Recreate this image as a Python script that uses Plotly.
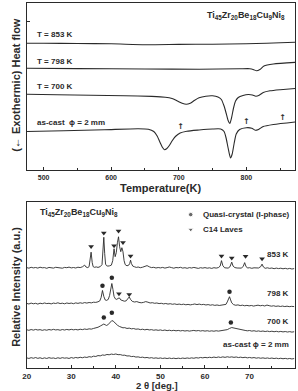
import plotly.graph_objects as go

W, H = 298, 391

# ---------------- DSC (top) ----------------
dsc_853 = [(475, 126.7), (500, 126.8), (550, 126.5), (600, 126.2), (650, 125.3), (700, 125.6),
           (750, 125.8), (800, 126.3), (830, 126.8), (850, 127.3), (872, 127.8)]
dsc_798 = [(475, 101.7), (550, 101.4), (650, 101.0), (730, 100.8), (790, 101.2), (805, 101.3),
           (811, 100.3), (815, 99.2), (820, 100.5), (826, 104.0), (840, 106.0), (872, 107.6)]
dsc_700 = [(475, 75.7), (520, 75.3), (570, 74.8), (620, 74.2), (660, 73.6), (680, 72.8), (690, 71.5),
           (698, 69.0), (705, 66.8), (711, 65.8), (717, 66.8), (723, 69.5), (730, 72.2), (740, 73.8),
           (750, 74.2), (758, 73.0), (763, 70.5), (767, 64.0), (770, 57.0), (773, 49.5), (775.5, 46.5),
           (778, 52.0), (781, 62.0), (784, 69.0), (788, 72.5), (795, 74.5), (803, 75.5), (809, 75.0),
           (814, 73.8), (819, 74.8), (825, 77.5), (835, 79.2), (850, 80.3), (872, 81.5)]
dsc_cast = [(475, 38.5), (530, 39.3), (590, 40.3), (640, 41.3), (655, 40.8), (663, 38.5), (668, 34.0),
            (672, 28.0), (676, 22.5), (679, 20.3), (682, 21.2), (686, 24.5), (690, 29.0), (695, 33.5),
            (702, 37.0), (712, 38.8), (730, 40.0), (750, 41.0), (762, 41.0), (767, 38.5), (770, 32.0),
            (773, 22.0), (776.5, 12.0), (779, 16.0), (782, 27.0), (785, 36.0), (790, 40.5), (800, 42.3),
            (808, 41.8), (813, 39.8), (818, 40.6), (825, 43.5), (840, 45.5), (872, 48.0)]
dsc_arrows = [(702.7, 43.3), (800, 47.7), (853.5, 51.7)]
dsc_labels = [("T = 853 K", 136), ("T = 798 K", 109), ("T = 700 K", 84), ("as-cast  \u03d5 = 2 mm", 48)]
dsc_xticks = [500, 600, 700, 800]

# ---------------- XRD (bottom) ----------------
xrd_853 = [(20.0, 101.0), (20.5, 100.4), (21.0, 101.3), (21.5, 100.7), (22.0, 101.1), (22.5, 100.5),
           (23.0, 101.4), (23.5, 100.8), (24.0, 101.0), (24.5, 100.3), (25.0, 101.2), (25.5, 100.9),
           (26.0, 100.5), (26.5, 101.3), (27.0, 100.8), (27.5, 101.0), (28.0, 100.4), (28.5, 101.2),
           (29.0, 100.9), (29.5, 101.5), (30.0, 100.7), (30.5, 101.1), (31.0, 100.6), (31.5, 101.4),
           (32.0, 101.0), (32.5, 101.8), (33.0, 103.5), (33.3, 101.6), (33.7, 101.0), (34.0, 102.0),
           (34.2, 107.0), (34.45, 116.5), (34.7, 106.0), (34.9, 102.0), (35.2, 101.3), (35.6, 101.7),
           (36.0, 101.2), (36.5, 102.0), (36.9, 104.0), (37.1, 114.0), (37.3, 131.5), (37.5, 115.0),
           (37.7, 104.5), (37.9, 103.0), (38.2, 102.5), (38.6, 102.8), (39.0, 103.5), (39.3, 108.0),
           (39.6, 120.0), (39.85, 112.0), (40.1, 116.0), (40.35, 126.0), (40.6, 132.0), (40.85, 122.0),
           (41.1, 117.0), (41.35, 121.0), (41.6, 117.0), (41.85, 108.0), (42.1, 104.0), (42.5, 102.8),
           (42.9, 103.5), (43.1, 105.0), (43.3, 108.5), (43.5, 105.0), (43.8, 102.5), (44.2, 101.8),
           (44.6, 101.2), (45.0, 101.6), (45.5, 100.9), (46.0, 101.4), (46.5, 102.0), (47.0, 103.0),
           (47.5, 101.8), (48.0, 101.0), (48.5, 101.3), (49.0, 100.6), (49.5, 101.1), (50.0, 100.7),
           (50.5, 101.2), (51.0, 100.5), (51.5, 101.0), (52.0, 101.6), (52.5, 101.0), (53.0, 100.4),
           (53.5, 101.1), (54.0, 100.8), (54.5, 101.3), (55.0, 100.5), (55.5, 100.9), (56.0, 100.3),
           (56.5, 101.0), (57.0, 100.6), (57.5, 101.2), (58.0, 100.7), (58.5, 100.2), (59.0, 100.9),
           (59.5, 100.5), (60.0, 101.0), (60.5, 100.4), (61.0, 100.8), (61.5, 100.2), (62.0, 100.9),
           (62.5, 100.5), (63.0, 101.0), (63.4, 102.5), (63.7, 108.0), (64.0, 103.0), (64.4, 100.8),
           (64.8, 101.0), (65.2, 100.5), (65.6, 101.8), (66.0, 106.5), (66.3, 102.5), (66.7, 101.0),
           (67.2, 100.6), (67.7, 100.9), (68.2, 100.5), (68.6, 102.5), (68.9, 106.0), (69.2, 102.0),
           (69.6, 100.6), (70.0, 100.9), (70.5, 100.3), (71.0, 100.8), (71.5, 100.4), (72.0, 100.6),
           (72.5, 102.0), (72.8, 104.5), (73.1, 101.6), (73.5, 100.3), (74.0, 100.8), (74.5, 100.2),
           (75.0, 100.6), (75.5, 99.9), (76.0, 100.5), (76.5, 100.0), (77.0, 100.4), (77.5, 99.8),
           (78.0, 100.3), (78.5, 99.7), (79.0, 100.2), (79.5, 99.6), (80.0, 100.0)]
xrd_798 = [(20.0, 65.0), (20.5, 64.4), (21.0, 65.3), (21.5, 64.6), (22.0, 65.1), (22.5, 64.3),
           (23.0, 65.2), (23.5, 64.7), (24.0, 65.4), (24.5, 64.8), (25.0, 65.1), (25.5, 64.5),
           (26.0, 65.3), (26.5, 64.9), (27.0, 65.6), (27.5, 64.8), (28.0, 65.2), (28.5, 64.6),
           (29.0, 65.4), (29.5, 64.9), (30.0, 65.3), (30.5, 64.7), (31.0, 65.5), (31.5, 65.0),
           (32.0, 65.6), (32.5, 65.1), (33.0, 65.8), (33.5, 65.3), (34.0, 65.9), (34.5, 65.5),
           (35.0, 66.2), (35.5, 66.0), (36.0, 66.6), (36.4, 67.5), (36.7, 71.0), (37.0, 78.0),
           (37.3, 72.0), (37.6, 68.5), (37.9, 68.0), (38.3, 69.0), (38.6, 73.0), (38.85, 80.0),
           (39.1, 85.0), (39.35, 79.0), (39.6, 72.0), (39.9, 69.5), (40.2, 69.0), (40.5, 70.0),
           (40.8, 70.5), (41.1, 68.5), (41.5, 67.8), (41.9, 67.2), (42.3, 67.5), (42.7, 69.5),
           (43.0, 71.5), (43.3, 69.0), (43.7, 67.0), (44.2, 66.4), (44.7, 66.8), (45.2, 66.0),
           (45.7, 65.6), (46.2, 66.0), (46.7, 66.8), (47.2, 66.2), (47.7, 65.4), (48.2, 65.7),
           (48.7, 65.1), (49.2, 65.4), (49.7, 64.8), (50.2, 65.1), (50.7, 64.5), (51.2, 64.9),
           (51.7, 64.3), (52.2, 64.7), (52.7, 64.1), (53.2, 64.5), (53.7, 63.9), (54.2, 64.3),
           (54.7, 63.8), (55.2, 64.2), (55.7, 63.6), (56.2, 64.0), (56.7, 63.5), (57.2, 63.9),
           (57.7, 64.4), (58.2, 63.8), (58.7, 64.3), (59.2, 63.7), (59.7, 64.0), (60.2, 63.4),
           (60.7, 63.8), (61.2, 63.2), (61.7, 63.6), (62.2, 63.0), (62.7, 63.4), (63.2, 62.9),
           (63.7, 63.3), (64.2, 63.0), (64.7, 64.0), (65.0, 66.5), (65.3, 70.0), (65.5, 71.7),
           (65.75, 68.5), (66.0, 65.5), (66.4, 63.8), (66.9, 63.1), (67.4, 63.5), (67.9, 62.8),
           (68.4, 63.2), (68.9, 62.6), (69.4, 63.0), (69.9, 62.5), (70.4, 62.9), (70.9, 62.3),
           (71.4, 62.8), (71.9, 63.2), (72.4, 62.6), (72.9, 63.0), (73.4, 62.4), (73.9, 63.3),
           (74.4, 62.7), (74.9, 62.2), (75.4, 62.6), (75.9, 62.0), (76.4, 62.4), (76.9, 61.9),
           (77.4, 62.3), (77.9, 61.8), (78.4, 62.2), (78.9, 61.7), (79.4, 62.0), (80.0, 61.8)]
xrd_700 = [(20.0, 38.5), (20.5, 37.9), (21.0, 38.7), (21.5, 38.1), (22.0, 38.8), (22.5, 38.2),
           (23.0, 38.6), (23.5, 37.9), (24.0, 38.5), (24.5, 38.0), (25.0, 38.7), (25.5, 38.2),
           (26.0, 38.9), (26.5, 38.3), (27.0, 38.6), (27.5, 38.0), (28.0, 38.7), (28.5, 38.2),
           (29.0, 38.8), (29.5, 38.3), (30.0, 38.9), (30.5, 38.4), (31.0, 38.8), (31.5, 38.3),
           (32.0, 39.0), (32.5, 38.6), (33.0, 39.2), (33.5, 38.8), (34.0, 39.4), (34.5, 39.1),
           (35.0, 39.8), (35.5, 40.2), (36.0, 41.0), (36.5, 42.2), (37.0, 43.5), (37.3, 44.2),
           (37.6, 43.5), (37.9, 42.8), (38.2, 43.4), (38.5, 45.0), (38.8, 46.6), (39.1, 47.7),
           (39.4, 47.2), (39.7, 45.8), (40.0, 44.3), (40.4, 42.9), (40.8, 41.8), (41.2, 41.2),
           (41.6, 40.4), (42.0, 40.6), (42.5, 39.8), (43.0, 40.1), (43.5, 39.4), (44.0, 39.7),
           (44.5, 39.0), (45.0, 39.3), (45.5, 38.6), (46.0, 39.0), (46.5, 38.4), (47.0, 38.9),
           (47.5, 38.3), (48.0, 38.6), (48.5, 38.0), (49.0, 38.4), (49.5, 37.9), (50.0, 38.3),
           (50.5, 37.7), (51.0, 38.2), (51.5, 37.6), (52.0, 38.0), (52.5, 37.5), (53.0, 37.9),
           (53.5, 37.4), (54.0, 37.8), (54.5, 37.3), (55.0, 37.7), (55.5, 37.2), (56.0, 37.6),
           (56.5, 37.1), (57.0, 37.5), (57.5, 37.8), (58.0, 37.3), (58.5, 37.7), (59.0, 37.2),
           (59.5, 37.6), (60.0, 37.1), (60.5, 37.5), (61.0, 37.0), (61.5, 37.4), (62.0, 37.0),
           (62.5, 37.5), (63.0, 37.1), (63.5, 37.6), (64.0, 37.4), (64.5, 38.0), (65.0, 38.6),
           (65.5, 39.8), (66.0, 40.7), (66.5, 40.2), (67.0, 39.6), (67.5, 39.0), (68.0, 38.6),
           (68.5, 38.1), (69.0, 37.8), (69.5, 37.4), (70.0, 37.7), (70.5, 37.1), (71.0, 37.5),
           (71.5, 36.9), (72.0, 37.3), (72.5, 36.8), (73.0, 37.2), (73.5, 36.7), (74.0, 37.1),
           (74.5, 36.6), (75.0, 37.0), (75.5, 36.5), (76.0, 36.9), (76.5, 36.4), (77.0, 36.8),
           (77.5, 36.3), (78.0, 36.7), (78.5, 36.2), (79.0, 36.6), (79.5, 36.1), (80.0, 36.5)]
xrd_cast = [(20.0, 10.2), (20.5, 9.6), (21.0, 10.4), (21.5, 9.8), (22.0, 10.5), (22.5, 9.7),
            (23.0, 10.3), (23.5, 9.5), (24.0, 10.2), (24.5, 9.6), (25.0, 10.4), (25.5, 9.8),
            (26.0, 10.1), (26.5, 9.5), (27.0, 10.3), (27.5, 9.7), (28.0, 10.4), (28.5, 9.9),
            (29.0, 10.2), (29.5, 9.6), (30.0, 10.5), (30.5, 9.9), (31.0, 10.6), (31.5, 10.1),
            (32.0, 10.8), (32.5, 10.3), (33.0, 11.0), (33.5, 10.6), (34.0, 11.4), (34.5, 11.0),
            (35.0, 11.9), (35.5, 11.6), (36.0, 12.5), (36.5, 12.2), (37.0, 13.1), (37.5, 12.8),
            (38.0, 13.6), (38.5, 13.3), (39.0, 14.0), (39.5, 13.6), (40.0, 14.1), (40.5, 13.4),
            (41.0, 13.5), (41.5, 12.8), (42.0, 12.9), (42.5, 12.1), (43.0, 12.2), (43.5, 11.5),
            (44.0, 11.7), (44.5, 11.0), (45.0, 11.2), (45.5, 10.6), (46.0, 10.9), (46.5, 10.3),
            (47.0, 10.6), (47.5, 10.0), (48.0, 10.4), (48.5, 9.8), (49.0, 10.2), (49.5, 9.7),
            (50.0, 10.1), (50.5, 9.6), (51.0, 10.0), (51.5, 9.5), (52.0, 10.0), (52.5, 9.5),
            (53.0, 9.9), (53.5, 9.4), (54.0, 9.9), (54.5, 9.5), (55.0, 10.0), (55.5, 9.6),
            (56.0, 10.1), (56.5, 9.7), (57.0, 10.2), (57.5, 9.8), (58.0, 10.4), (58.5, 10.0),
            (59.0, 10.6), (59.5, 10.2), (60.0, 10.7), (60.5, 10.3), (61.0, 10.8), (61.5, 10.4),
            (62.0, 11.0), (62.5, 10.5), (63.0, 11.1), (63.5, 10.6), (64.0, 11.2), (64.5, 10.7),
            (65.0, 11.3), (65.5, 10.8), (66.0, 11.2), (66.5, 10.7), (67.0, 11.1), (67.5, 10.5),
            (68.0, 10.9), (68.5, 10.4), (69.0, 10.8), (69.5, 10.2), (70.0, 10.6), (70.5, 10.1),
            (71.0, 10.5), (71.5, 9.9), (72.0, 10.3), (72.5, 9.8), (73.0, 10.2), (73.5, 9.7),
            (74.0, 10.1), (74.5, 9.6), (75.0, 10.0), (75.5, 9.5), (76.0, 9.9), (76.5, 9.4),
            (77.0, 9.8), (77.5, 9.3), (78.0, 9.7), (78.5, 9.2), (79.0, 9.6), (79.5, 9.1), (80.0, 9.5)]
laves_marks = [(34.45, 122.3), (37.3, 135.7), (39.6, 123.0), (40.6, 137.7), (41.6, 126.3), (43.3, 112.7),
               (63.7, 112.7), (66.0, 110.7), (69.1, 112.3), (72.8, 110.0), (40.7, 74.7), (43.0, 74.0)]
quasi_marks = [(37.0, 82.7), (39.1, 90.7), (65.5, 76.7), (37.3, 50.7), (39.1, 55.7), (65.8, 45.7)]
xrd_labels = [("853 K", 114), ("798 K", 75), ("700 K", 46.7)]
xrd_xticks = [20, 30, 40, 50, 60, 70, 80]

INK = "#2a2a2a"
FONT = "Liberation Sans"

fig = go.Figure()

for curve in (dsc_853, dsc_798, dsc_700, dsc_cast):
    fig.add_trace(go.Scatter(x=[p[0] for p in curve], y=[p[1] for p in curve], mode="lines",
                             line=dict(color=INK, width=1.1, shape="spline", smoothing=0.6),
                             xaxis="x", yaxis="y", showlegend=False, hoverinfo="skip"))
fig.add_trace(go.Scatter(x=[p[0] for p in dsc_arrows], y=[p[1] for p in dsc_arrows], mode="text",
                         text=["\u2191"] * len(dsc_arrows),
                         textfont=dict(family="DejaVu Sans", size=8, color=INK, weight="bold"),
                         xaxis="x", yaxis="y", showlegend=False, hoverinfo="skip"))

for curve in (xrd_853, xrd_798, xrd_700, xrd_cast):
    fig.add_trace(go.Scatter(x=[p[0] for p in curve], y=[p[1] for p in curve], mode="lines",
                             line=dict(color=INK, width=0.9),
                             xaxis="x2", yaxis="y2", showlegend=False, hoverinfo="skip"))
fig.add_trace(go.Scatter(x=[p[0] for p in laves_marks], y=[p[1] for p in laves_marks], mode="markers",
                         marker=dict(symbol="triangle-down", size=5, color=INK),
                         xaxis="x2", yaxis="y2", showlegend=False, hoverinfo="skip"))
fig.add_trace(go.Scatter(x=[p[0] for p in quasi_marks], y=[p[1] for p in quasi_marks], mode="markers",
                         marker=dict(symbol="circle", size=4.5, color=INK),
                         xaxis="x2", yaxis="y2", showlegend=False, hoverinfo="skip"))
# legend markers
fig.add_trace(go.Scatter(x=[56.8, 56.8], y=[154.3, 139.3], mode="markers",
                         marker=dict(symbol=["circle", "triangle-down"], size=[4.5, 5], color=INK),
                         xaxis="x2", yaxis="y2", showlegend=False, hoverinfo="skip"))

top_dom = [1 - 170 / H, 1 - 3 / H]
bot_dom = [1 - 368 / H, 1 - 202 / H]
xdom = [23 / W, 295 / W]

axis_common = dict(showline=True, linecolor=INK, linewidth=1.2, mirror=True, showgrid=False,
                   zeroline=False, tickcolor=INK)

fig.update_layout(
    width=W, height=H, margin=dict(l=0, r=0, t=0, b=0),
    paper_bgcolor="white", plot_bgcolor="white",
    font=dict(family=FONT, color=INK),
    xaxis=dict(domain=xdom, anchor="y", range=[475, 872], tickvals=dsc_xticks, ticks="inside", ticklen=3,
               tickfont=dict(size=7, weight="bold", family=FONT, color=INK),
               minor=dict(ticks="inside", dtick=50, tick0=500, ticklen=2, tickcolor=INK),
               **axis_common),
    yaxis=dict(domain=top_dom, anchor="x", range=[0, 167], tickvals=[39, 149], ticks="inside", ticklen=3,
               showticklabels=False, **axis_common),
    xaxis2=dict(domain=xdom, anchor="y2", range=[20, 80.2], tickvals=xrd_xticks, ticks="inside", ticklen=3,
                tickfont=dict(size=8, weight="bold", family=FONT, color=INK),
                minor=dict(ticks="inside", dtick=5, tick0=20, ticklen=2, tickcolor=INK),
                **axis_common),
    yaxis2=dict(domain=bot_dom, anchor="x2", range=[0, 167], showticklabels=False, ticks="",
                **axis_common),
)

ann = []
bold8 = dict(size=8, weight="bold", family=FONT, color=INK)
for text, yv in dsc_labels:
    ann.append(dict(x=488, y=yv, xref="x", yref="y", text=text, showarrow=False,
                    xanchor="left", yanchor="middle", font=bold8))
formula = "Ti<sub>45</sub>Zr<sub>20</sub>Be<sub>18</sub>Cu<sub>9</sub>Ni<sub>8</sub>"
ann.append(dict(x=739, y=155, xref="x", yref="y", text=formula,
                showarrow=False, xanchor="left", yanchor="middle",
                font=dict(size=9, weight="bold", family=FONT, color=INK)))
ann.append(dict(x=22.6, y=156, xref="x2", yref="y2", text=formula,
                showarrow=False, xanchor="left", yanchor="middle",
                font=dict(size=9, weight="bold", family=FONT, color=INK)))
ann.append(dict(x=59.0, y=154.3, xref="x2", yref="y2", text="Quasi-crystal (I-phase)",
                showarrow=False, xanchor="left", yanchor="middle", font=bold8))
ann.append(dict(x=59.0, y=139.3, xref="x2", yref="y2", text="C14 Laves",
                showarrow=False, xanchor="left", yanchor="middle", font=bold8))
for text, yv in xrd_labels:
    ann.append(dict(x=79.4, y=yv, xref="x2", yref="y2", text=text, showarrow=False,
                    xanchor="right", yanchor="middle", font=bold8))
ann.append(dict(x=79.4, y=23.3, xref="x2", yref="y2", text="as-cast \u03d5 = 2 mm", showarrow=False,
                xanchor="right", yanchor="middle", font=bold8))
# axis titles
ann.append(dict(x=159 / W, y=1 - 188 / H, xref="paper", yref="paper", text="Temperature(K)",
                showarrow=False, xanchor="center", yanchor="middle",
                font=dict(size=11, weight="bold", family=FONT, color=INK)))
ann.append(dict(x=155 / W, y=0, xref="paper", yref="paper", text="2 \u03b8 [deg.]",
                showarrow=False, xanchor="center", yanchor="bottom", yshift=-2,
                font=dict(size=9.5, weight="bold", family=FONT, color=INK)))
ann.append(dict(x=12 / W, y=1 - 85 / H, xref="paper", yref="paper", text="(\u2190 Exothermic) Heat flow",
                showarrow=False, xanchor="center", yanchor="middle", textangle=-90,
                font=dict(size=11, weight="bold", family=FONT, color=INK)))
ann.append(dict(x=12 / W, y=1 - 287 / H, xref="paper", yref="paper", text="Relative Intensity (a.u.)",
                showarrow=False, xanchor="center", yanchor="middle", textangle=-90,
                font=dict(size=11, weight="bold", family=FONT, color=INK)))
fig.update_layout(annotations=ann)

fig.write_html("out.html")
